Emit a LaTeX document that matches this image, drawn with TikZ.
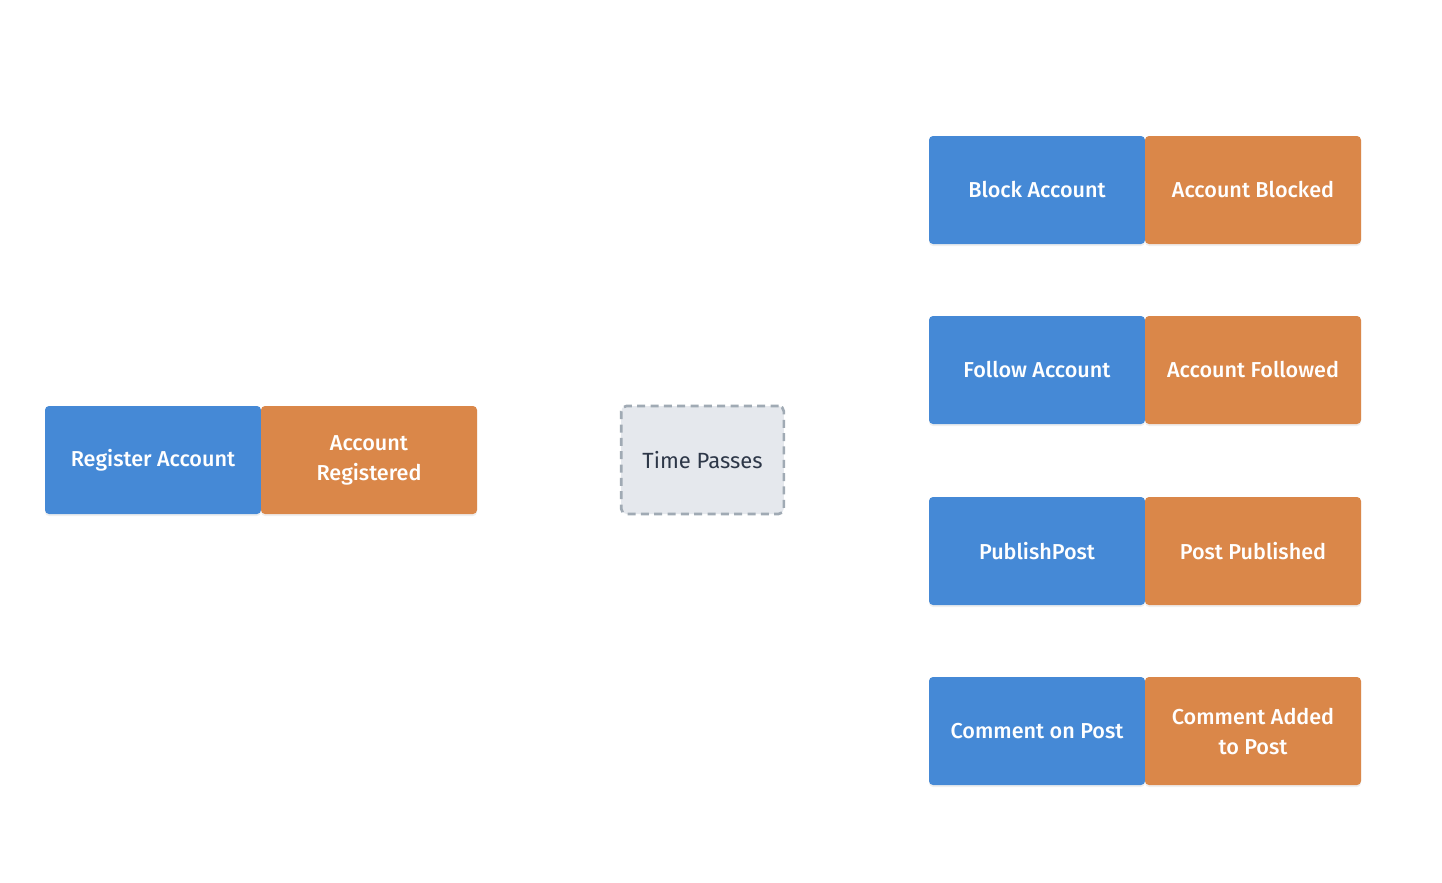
\documentclass[tikz,border=0pt]{standalone}
\usepackage{fontspec}
\setmainfont{Fira Sans}
\newfontfamily\medfont{Fira Sans Medium}
\usetikzlibrary{shadows}
\definecolor{cmdblue}{HTML}{4589D6}
\definecolor{evorange}{HTML}{DA8749}
\definecolor{tpfill}{HTML}{E5E8ED}
\definecolor{tpdraw}{HTML}{A0AAB4}
\definecolor{tptext}{HTML}{2D3748}
\tikzset{
  base/.style={minimum width=162pt, minimum height=81pt, rounded corners=3pt,
    inner sep=0pt, align=center, font=\medfont\fontsize{16.2}{22.5}\selectfont, text=white,
    drop shadow={opacity=0.12, shadow xshift=0pt, shadow yshift=-1.5pt}},
  cmdbox/.style={base, fill=cmdblue},
  evbox/.style={base, fill=evorange},
  timebox/.style={minimum width=122pt, minimum height=81pt, rounded corners=4pt,
    inner sep=0pt, fill=tpfill, draw=tpdraw, line width=2pt, dash pattern=on 6pt off 4pt,
    text=tptext, font=\fontsize{16.5}{22.5}\selectfont}
}
\begin{document}
\begin{tikzpicture}[x=0.75pt, y=-0.75pt]
\useasboundingbox[fill=white] (0,0) rectangle (1442,882);
\node[cmdbox] (ra) at (153,460) {Register Account};
\node[evbox] (ar) at (369,460) {Account\\Registered};
\node[timebox] (tp) at (702.5,460) {Time Passes};
\node[cmdbox] (ba) at (1037,190) {Block Account};
\node[evbox] (ab) at (1253,190) {Account Blocked};
\node[cmdbox] (fa) at (1037,370) {Follow Account};
\node[evbox] (af) at (1253,370) {Account Followed};
\node[cmdbox] (pp) at (1037,551) {PublishPost};
\node[evbox] (pb) at (1253,551) {Post Published};
\node[cmdbox] (cp) at (1037,731) {Comment on Post};
\node[evbox] (ca) at (1253,731) {Comment Added\\to Post};
\end{tikzpicture}
\end{document}
